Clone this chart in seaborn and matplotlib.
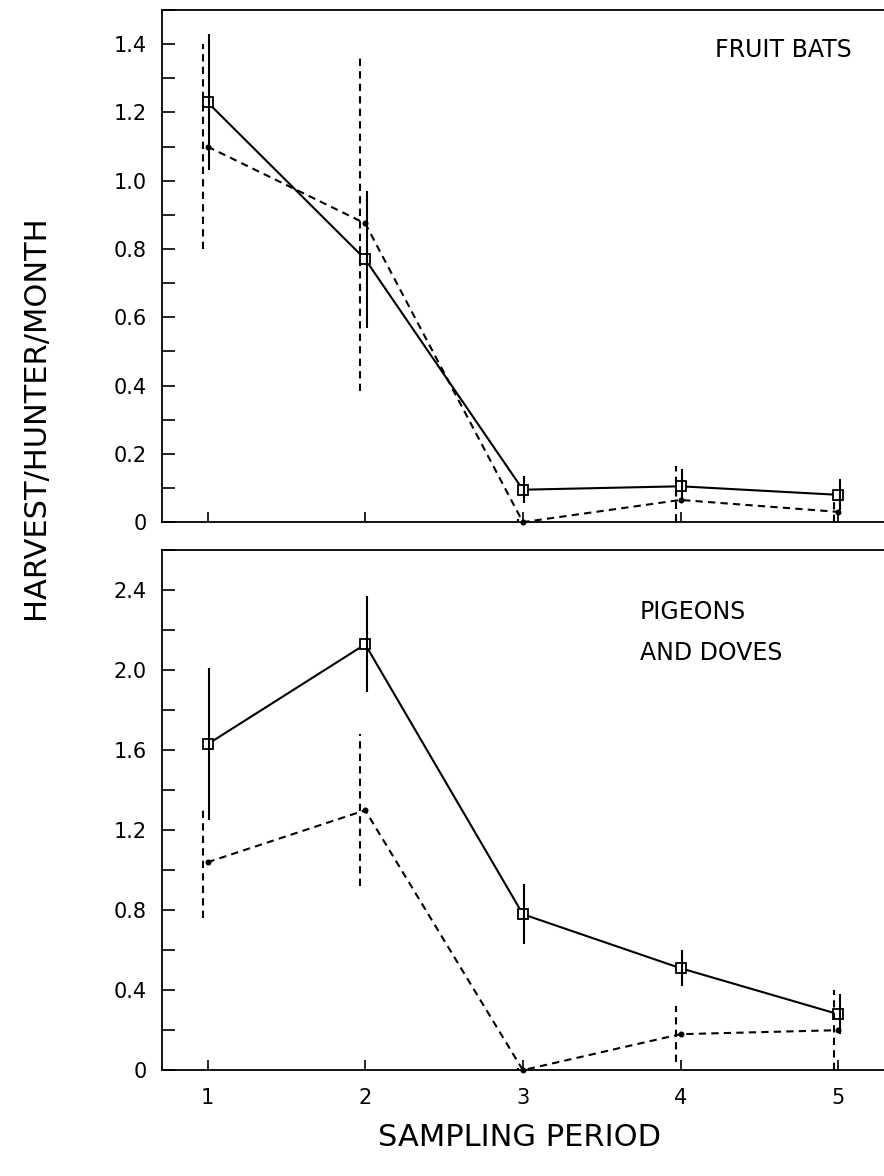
import numpy as np
import pandas as pd
import matplotlib
matplotlib.use("Agg")
import matplotlib.pyplot as plt
import matplotlib.ticker as ticker
import seaborn as sns

# Data
periods = [1, 2, 3, 4, 5]

bats_solid = [1.23, 0.77, 0.095, 0.105, 0.08]
bats_solid_err = [0.20, 0.20, 0.04, 0.05, 0.045]
bats_dash = [1.10, 0.875, 0.0, 0.065, 0.03]
bats_dash_err = [0.30, 0.49, 0.01, 0.10, 0.03]

pig_solid = [1.63, 2.13, 0.78, 0.51, 0.28]
pig_solid_err = [0.38, 0.24, 0.15, 0.09, 0.10]
pig_dash = [1.04, 1.30, 0.0, 0.18, 0.20]
pig_dash_err = [0.28, 0.38, 0.01, 0.14, 0.20]

sns.set_style("ticks")
plt.rcParams["font.family"] = ["DejaVu Sans"]
plt.rcParams["text.color"] = "black"
plt.rcParams["xtick.color"] = "black"
plt.rcParams["ytick.color"] = "black"

fig = plt.figure(figsize=(8.84, 11.76), dpi=100)
ax_top = fig.add_axes([0.183, 0.556, 0.817, 0.4355])
ax_bot = fig.add_axes([0.183, 0.090, 0.817, 0.442])

DASH = (3.5, 2.5)


def draw_panel(ax, solid, solid_err, dash, dash_err, ymax, major, minor, labels):
    df = pd.DataFrame({
        "period": periods * 2,
        "value": solid + dash,
        "series": ["solid"] * 5 + ["dash"] * 5,
    })
    sns.lineplot(data=df, x="period", y="value", style="series",
                 style_order=["solid", "dash"], dashes={"solid": "", "dash": DASH},
                 markers={"solid": "s", "dash": "o"}, color="black", lw=1.5,
                 markersize=6.5, markerfacecolor="white", markeredgecolor="black",
                 markeredgewidth=1.3, legend=False, ax=ax, clip_on=False)
    # filled dot for the dashed series
    lines = ax.get_lines()
    if len(lines) > 1:
        lines[1].set_markerfacecolor("black")
        lines[1].set_markersize(3)

    x = np.array(periods, dtype=float)
    ax.errorbar(x + 0.01, solid, yerr=solid_err, fmt="none", ecolor="black",
                elinewidth=1.5, capsize=0)
    eb = ax.errorbar(x - 0.03, dash, yerr=dash_err, fmt="none", ecolor="black",
                     elinewidth=1.5, capsize=0)
    for lc in eb[2]:
        lc.set_linestyle((0, DASH))

    ax.set_xlim(0.71, 5.29)
    ax.set_ylim(0, ymax)
    ax.set_yticks(major)
    ax.set_yticklabels(labels)
    ax.yaxis.set_minor_locator(ticker.MultipleLocator(minor))
    ax.set_xticks(periods)
    ax.tick_params(axis="both", which="both", direction="in", color="black")
    ax.tick_params(axis="y", which="major", length=9, width=1.2, pad=11, labelsize=15)
    ax.tick_params(axis="y", which="minor", length=9, width=1.2)
    ax.tick_params(axis="x", which="major", length=7, width=1.2, pad=13, labelsize=15)
    ax.spines["right"].set_visible(False)
    for s in ["left", "bottom", "top"]:
        ax.spines[s].set_color("black")
        ax.spines[s].set_linewidth(1.3)
    ax.set_xlabel("")
    ax.set_ylabel("")


draw_panel(ax_top, bats_solid, bats_solid_err, bats_dash, bats_dash_err, 1.5,
           [0, 0.2, 0.4, 0.6, 0.8, 1.0, 1.2, 1.4], 0.1,
           ["0", "0.2", "0.4", "0.6", "0.8", "1.0", "1.2", "1.4"])
ax_top.tick_params(axis="x", labelbottom=False)

draw_panel(ax_bot, pig_solid, pig_solid_err, pig_dash, pig_dash_err, 2.6,
           [0, 0.4, 0.8, 1.2, 1.6, 2.0, 2.4], 0.2,
           ["0", "0.4", "0.8", "1.2", "1.6", "2.0", "2.4"])
ax_bot.set_xticklabels([str(p) for p in periods])

ax_top.text(0.956, 0.922, "FRUIT BATS", transform=ax_top.transAxes,
            fontsize=17, ha="right", va="center")
ax_bot.text(0.662, 0.842, "PIGEONS\nAND DOVES", transform=ax_bot.transAxes,
            fontsize=17, ha="left", va="center", linespacing=1.9)

fig.text(0.040, 0.645, "HARVEST/HUNTER/MONTH", rotation=90, fontsize=22,
         ha="center", va="center")
fig.text(0.588, 0.033, "SAMPLING PERIOD", fontsize=22, ha="center", va="center")

fig.savefig("out.png", dpi=100)
